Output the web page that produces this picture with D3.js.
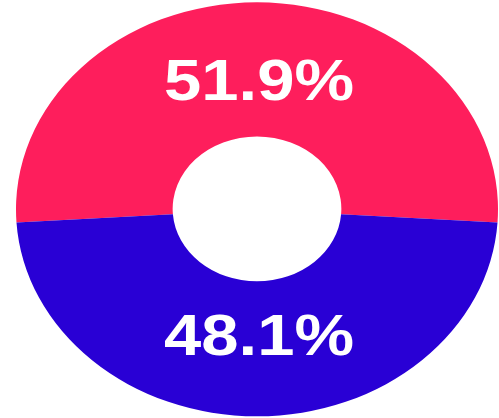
<!DOCTYPE html>
<html>
<head>
<meta charset="utf-8">
<script src="https://cdn.jsdelivr.net/npm/d3@7"></script>
<style>
  html, body { margin: 0; padding: 0; background: #fff; }
  svg { display: block; }
</style>
</head>
<body>
<svg id="chart" width="499" height="418"></svg>
<script>
// Share of the two groups
const categories = ["Group A", "Group B"];
const shares = [51.9, 48.1];
const labels = ["51.9%", "48.1%"];
const colors = ["#FE1E5C", "#2900D5"];

const svg = d3.select("#chart");

// Ellipse geometry (donut squashed vertically)
const cx = 257, cy = 210, rx = 241, ry = 207;
const innerRatio = 0.35;

// First slice centred on top
const start = -(shares[0] / d3.sum(shares)) * Math.PI;
const pie = d3.pie().sort(null).startAngle(start).endAngle(start + 2 * Math.PI);
const arcs = pie(shares);

const arc = d3.arc().innerRadius(innerRatio).outerRadius(1);

const g = svg.append("g")
  .attr("transform", `translate(${cx},${cy}) scale(${rx},${ry})`);

g.selectAll("path")
  .data(arcs)
  .join("path")
  .attr("d", arc)
  .attr("fill", (d, i) => colors[i]);

// Value labels
const labelArc = d3.arc().innerRadius(0.617).outerRadius(0.617);
svg.selectAll("text.value")
  .data(arcs)
  .join("text")
  .attr("class", "value")
  .attr("x", d => cx + labelArc.centroid(d)[0] * rx + 2)
  .attr("y", d => cy + labelArc.centroid(d)[1] * ry + 17.5)
  .attr("text-anchor", "middle")
  .attr("textLength", 190)
  .attr("lengthAdjust", "spacingAndGlyphs")
  .attr("font-family", "'Liberation Sans', Arial, sans-serif")
  .attr("font-weight", "bold")
  .attr("font-size", 57)
  .attr("fill", "#fff")
  .text((d, i) => labels[i]);
</script>
</body>
</html>
